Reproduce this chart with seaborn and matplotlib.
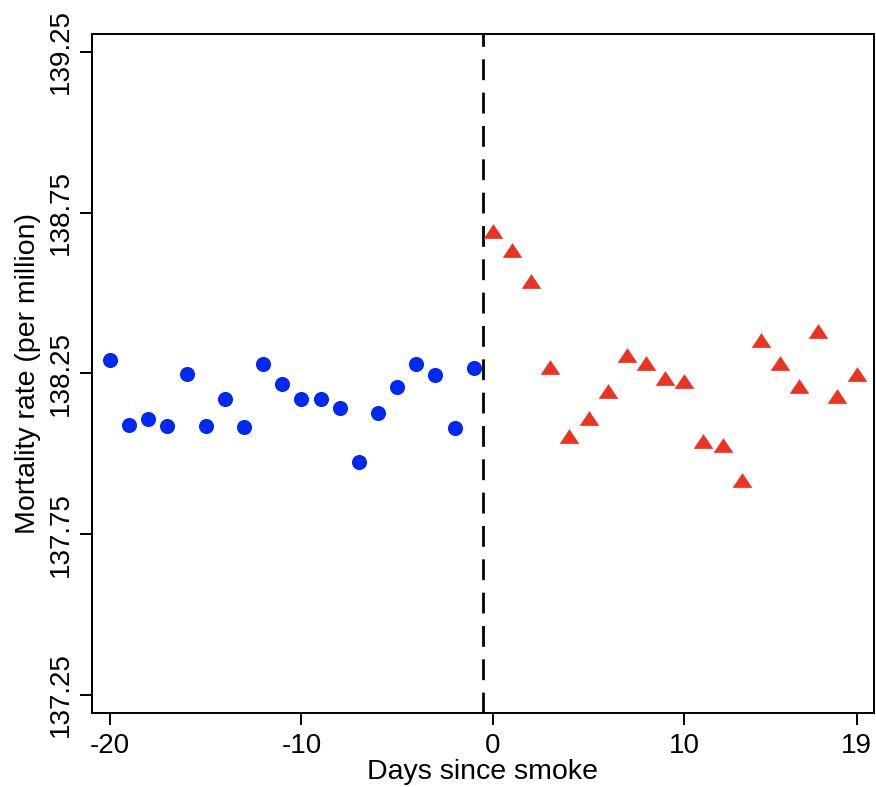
import matplotlib
matplotlib.use('Agg')
import matplotlib.pyplot as plt
import seaborn as sns
import pandas as pd

# Days before smoke (blue circles) and after (red triangles)
days_before = list(range(-20, 0))
rate_before = [138.292, 138.089, 138.108, 138.087, 138.247, 138.086, 138.169, 138.084,
               138.280, 138.216, 138.169, 138.172, 138.143, 137.975, 138.126, 138.207,
               138.280, 138.244, 138.081, 138.268]

days_after = list(range(0, 20))
rate_after = [138.694, 138.633, 138.536, 138.270, 138.057, 138.111, 138.195, 138.308,
              138.283, 138.237, 138.225, 138.040, 138.028, 137.919, 138.353, 138.282,
              138.211, 138.382, 138.180, 138.247]

y_ticks = [137.25, 137.75, 138.25, 138.75, 139.25]
x_ticks = [-20, -10, 0, 10, 19]

df_before = pd.DataFrame({'day': days_before, 'rate': rate_before})
df_after = pd.DataFrame({'day': days_after, 'rate': rate_after})

sns.set_style('ticks')
plt.rcParams['font.family'] = ['Liberation Sans', 'DejaVu Sans']
plt.rcParams['axes.unicode_minus'] = False

fig = plt.figure(figsize=(8.76, 7.87), dpi=100)
ax = fig.add_axes([0.1047, 0.0944, 0.8933, 0.863])

# wide, flat triangle like the original
tri = [(-1, -0.75), (1, -0.75), (0, 0.75), (-1, -0.75)]

sns.scatterplot(x='day', y='rate', data=df_before, ax=ax, color='#0029F5',
                marker='o', s=118, linewidth=0, zorder=3)
sns.scatterplot(x='day', y='rate', data=df_after, ax=ax, color='#EB3323',
                marker=tri, s=200, linewidth=0, zorder=3)

ax.axvline(-0.5, color='black', linewidth=2, linestyle=(0, (7.5, 4.5)), zorder=2)

ax.set_xlim(-20.956, 19.92)
ax.set_ylim(137.195, 139.307)
ax.set_xticks(x_ticks)
ax.set_yticks(y_ticks)
ax.set_yticklabels([f'{v:.2f}' for v in y_ticks], rotation=90, va='center')

for side in ['top', 'right', 'left', 'bottom']:
    ax.spines[side].set_visible(True)
    ax.spines[side].set_linewidth(1.4)
    ax.spines[side].set_color('black')

ax.tick_params(axis='both', length=8.5, width=1.4, color='black', labelsize=20,
               labelcolor='black')
ax.tick_params(axis='x', pad=6)
ax.tick_params(axis='y', pad=4)

ax.set_xlabel('Days since smoke', fontsize=20.5, labelpad=0, color='black')
ax.set_ylabel('Mortality rate (per million)', fontsize=20.5, labelpad=5, color='black')

fig.savefig('out.png', dpi=100)
